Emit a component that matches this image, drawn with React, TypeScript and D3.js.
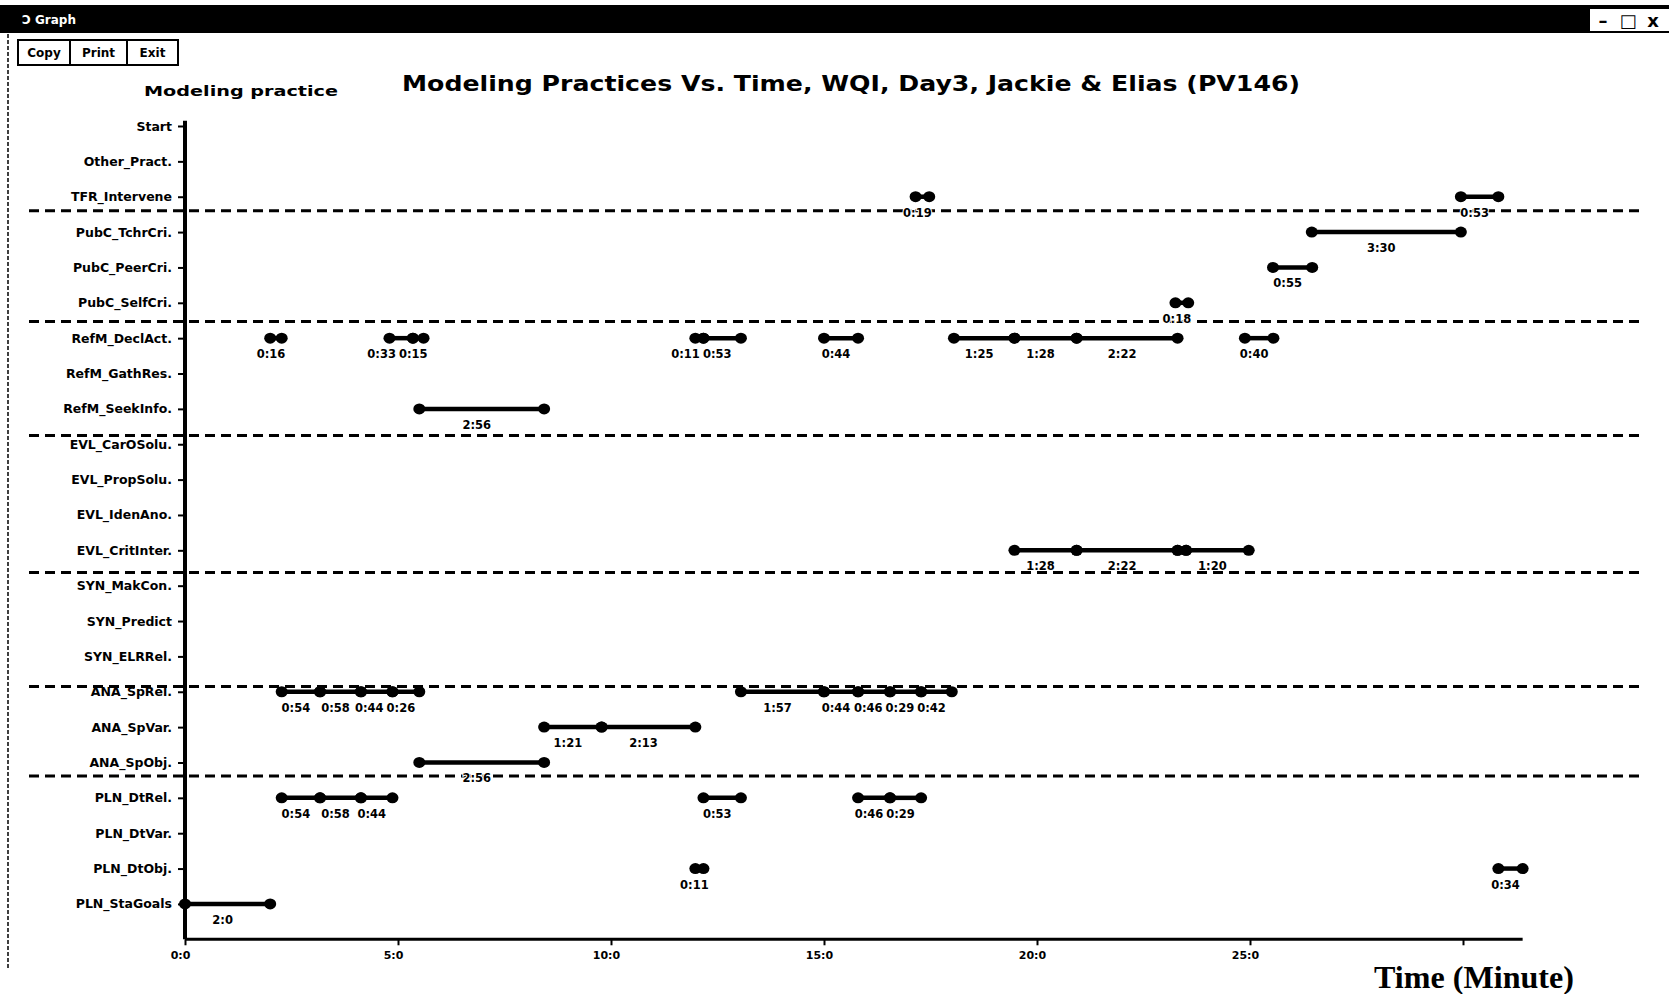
import React, { useEffect, useRef } from "react";
import * as d3 from "d3";

// rows of the chart, top to bottom
const practices = [
  "Start", "Other_Pract.", "TFR_Intervene",
  "PubC_TchrCri.", "PubC_PeerCri.", "PubC_SelfCri.",
  "RefM_DeclAct.", "RefM_GathRes.", "RefM_SeekInfo.",
  "EVL_CarOSolu.", "EVL_PropSolu.", "EVL_IdenAno.", "EVL_CritInter.",
  "SYN_MakCon.", "SYN_Predict", "SYN_ELRRel.",
  "ANA_SpRel.", "ANA_SpVar.", "ANA_SpObj.",
  "PLN_DtRel.", "PLN_DtVar.", "PLN_DtObj.", "PLN_StaGoals",
];

// dashed group separators, in row units
const groupBreaks = [2.4, 5.53, 8.75, 12.63, 15.85, 18.38];

const xTicks = [0, 5, 10, 15, 20, 25, 30];
const xTickLabels = ["0:0", "5:0", "10:0", "15:0", "20:0", "25:0", ""];
const xMax = 31.4;

// coded episodes (minutes)
const segPractice = [
  "TFR_Intervene", "TFR_Intervene",
  "PubC_TchrCri.", "PubC_PeerCri.", "PubC_SelfCri.",
  "RefM_DeclAct.", "RefM_DeclAct.", "RefM_DeclAct.", "RefM_DeclAct.", "RefM_DeclAct.",
  "RefM_DeclAct.", "RefM_DeclAct.", "RefM_DeclAct.", "RefM_DeclAct.", "RefM_DeclAct.",
  "RefM_SeekInfo.",
  "EVL_CritInter.", "EVL_CritInter.", "EVL_CritInter.", "EVL_CritInter.",
  "ANA_SpRel.", "ANA_SpRel.", "ANA_SpRel.", "ANA_SpRel.",
  "ANA_SpRel.", "ANA_SpRel.", "ANA_SpRel.", "ANA_SpRel.", "ANA_SpRel.",
  "ANA_SpVar.", "ANA_SpVar.",
  "ANA_SpObj.",
  "PLN_DtRel.", "PLN_DtRel.", "PLN_DtRel.", "PLN_DtRel.", "PLN_DtRel.", "PLN_DtRel.",
  "PLN_DtObj.", "PLN_DtObj.",
  "PLN_StaGoals",
];
const segStart = [
  17.15, 29.95,
  26.45, 25.54, 23.25,
  2.0, 4.8, 5.35, 11.98, 12.17, 15.0, 18.05, 19.47, 20.93, 24.88,
  5.5,
  19.47, 20.93, 23.3, 23.5,
  2.27, 3.17, 4.13, 4.87, 13.05, 15.0, 15.8, 16.55, 17.28,
  8.43, 9.78,
  5.5,
  2.27, 3.17, 4.13, 12.17, 15.8, 16.55,
  11.98, 30.83,
  0,
];
const segEnd = [
  17.47, 30.83,
  29.95, 26.46, 23.55,
  2.27, 5.35, 5.6, 12.17, 13.05, 15.8, 19.47, 20.93, 23.3, 25.55,
  8.43,
  20.93, 23.3, 23.5, 24.97,
  3.17, 4.13, 4.87, 5.5, 15.0, 15.8, 16.55, 17.28, 18.0,
  9.78, 11.98,
  8.43,
  3.17, 4.13, 4.87, 13.05, 16.55, 17.28,
  12.17, 31.4,
  2.0,
];
const segLabel = [
  "0:19", "0:53",
  "3:30", "0:55", "0:18",
  "0:16", "0:33", "0:15", "0:11", "0:53", "0:44", "1:25", "1:28", "2:22", "0:40",
  "2:56",
  "1:28", "2:22", "", "1:20",
  "0:54", "0:58", "0:44", "0:26", "1:57", "0:44", "0:46", "0:29", "0:42",
  "1:21", "2:13",
  "2:56",
  "0:54", "0:58", "0:44", "0:53", "0:46", "0:29",
  "0:11", "0:34",
  "2:0",
];

const FONT = "'DejaVu Sans', Verdana, sans-serif";

const App = () => {
  const ref = useRef<SVGSVGElement>(null);

  useEffect(() => {
    const svg = d3.select(ref.current);
    svg.selectAll("*").remove();

    const W = 1669;
    const H = 994;

    const x = d3.scaleLinear().domain([0, xMax]).range([185, 185 + xMax * 42.6]);
    // one extra slot below the last row for the time axis
    const y = d3.scaleLinear().domain([0, practices.length]).range([126, 126 + practices.length * 35.36]);
    const row = (p: string) => y(practices.indexOf(p));

    svg.append("rect").attr("width", W).attr("height", H).attr("fill", "#fff");

    // window chrome
    svg.append("rect").attr("x", 0).attr("y", 5).attr("width", W).attr("height", 28).attr("fill", "#000");
    svg.append("text")
      .attr("x", 22).attr("y", 24)
      .attr("fill", "#fff").style("font", `bold 12px ${FONT}`)
      .text("\u2183 Graph");
    svg.append("rect").attr("x", 1590).attr("y", 9).attr("width", 79).attr("height", 22).attr("fill", "#fff");
    ["\u2013", "\u25A1", "x"].forEach((c, i) => {
      svg.append("text")
        .attr("x", 1603 + i * 25).attr("y", 27)
        .attr("text-anchor", "middle")
        .style("font", `bold 18px ${FONT}`)
        .text(c);
    });
    svg.append("line")
      .attr("x1", 8).attr("x2", 8).attr("y1", 34).attr("y2", 968)
      .attr("stroke", "#000").attr("stroke-width", 1.5)
      .attr("stroke-dasharray", "4 2");

    const buttons = [["Copy", 18, 52], ["Print", 70, 57], ["Exit", 127, 51]] as const;
    buttons.forEach(([t, bx, bw]) => {
      svg.append("rect")
        .attr("x", bx).attr("y", 40).attr("width", bw).attr("height", 25)
        .attr("fill", "#fff").attr("stroke", "#000").attr("stroke-width", 2);
      svg.append("text")
        .attr("x", bx + bw / 2).attr("y", 57)
        .attr("text-anchor", "middle")
        .style("font", `bold 12px ${FONT}`)
        .text(t);
    });

    // titles
    svg.append("text")
      .attr("x", 851).attr("y", 91)
      .attr("text-anchor", "middle")
      .attr("textLength", 898).attr("lengthAdjust", "spacingAndGlyphs")
      .style("font", `bold 22px ${FONT}`)
      .text("Modeling Practices Vs. Time, WQI, Day3, Jackie & Elias (PV146)");
    svg.append("text")
      .attr("x", 144).attr("y", 96)
      .attr("textLength", 194).attr("lengthAdjust", "spacingAndGlyphs")
      .style("font", `bold 14px ${FONT}`)
      .text("Modeling practice");
    svg.append("text")
      .attr("x", 1374).attr("y", 988)
      .attr("textLength", 200).attr("lengthAdjust", "spacingAndGlyphs")
      .style("font", "bold 31px 'Liberation Serif', 'Times New Roman', serif")
      .text("Time (Minute)");

    // dashed group separators
    svg.selectAll(".sep")
      .data(groupBreaks)
      .enter()
      .append("line")
        .attr("class", "sep")
        .attr("x1", 29).attr("x2", 1645)
        .attr("y1", d => y(d))
        .attr("y2", d => y(d))
        .attr("stroke", "#000").attr("stroke-width", 3)
        .attr("stroke-dasharray", "10 6");

    // y axis
    const yAxis = svg.append("g")
      .attr("transform", `translate(${x(0)},0)`)
      .call(
        d3.axisLeft(y)
          .tickValues(d3.range(practices.length))
          .tickFormat(i => practices[i as number])
          .tickSize(7)
          .tickPadding(6)
      );
    yAxis.select(".domain").remove();
    yAxis.selectAll("line").attr("stroke", "#000").attr("stroke-width", 2);
    yAxis.selectAll("text")
      .attr("fill", "#000")
      .style("font", `bold 12.5px ${FONT}`);
    svg.append("line")
      .attr("x1", x(0)).attr("x2", x(0))
      .attr("y1", y(-0.15)).attr("y2", y(practices.length))
      .attr("stroke", "#000").attr("stroke-width", 4);

    // x axis
    const xAxis = svg.append("g")
      .attr("transform", `translate(0,${y(practices.length)})`)
      .call(
        d3.axisBottom(x)
          .tickValues(xTicks)
          .tickFormat((d, i) => xTickLabels[i])
          .tickSize(6)
          .tickPadding(6)
      );
    xAxis.select(".domain").remove();
    xAxis.selectAll("line").attr("stroke", "#000").attr("stroke-width", 2);
    xAxis.selectAll("text")
      .attr("fill", "#000")
      .attr("dx", -5)
      .style("font", `bold 11px ${FONT}`);
    svg.append("line")
      .attr("x1", x(0)).attr("x2", x(xMax))
      .attr("y1", y(practices.length)).attr("y2", y(practices.length))
      .attr("stroke", "#000").attr("stroke-width", 3);

    // episodes
    const idx = d3.range(segPractice.length);
    const g = svg.append("g");
    g.selectAll(".seg")
      .data(idx)
      .enter()
      .append("line")
        .attr("class", "seg")
        .attr("x1", i => x(segStart[i]))
        .attr("x2", i => x(segEnd[i]))
        .attr("y1", i => row(segPractice[i]))
        .attr("y2", i => row(segPractice[i]))
        .attr("stroke", "#000").attr("stroke-width", 4.5);

    const ends = idx.flatMap(i => [[segStart[i], segPractice[i]], [segEnd[i], segPractice[i]]] as [number, string][]);
    g.selectAll(".dot")
      .data(ends)
      .enter()
      .append("ellipse")
        .attr("class", "dot")
        .attr("cx", d => x(d[0]))
        .attr("cy", d => row(d[1]))
        .attr("rx", 6).attr("ry", 5.5)
        .attr("fill", "#000");

    const labels = g.selectAll<SVGTextElement, number>(".lbl")
      .data(idx.filter(i => segLabel[i] !== ""))
      .enter()
      .append("text")
        .attr("class", "lbl")
        .attr("x", i => x((segStart[i] + segEnd[i]) / 2) - 5)
        .attr("y", i => row(segPractice[i]) + 20)
        .attr("text-anchor", "middle")
        .attr("stroke", "#fff").attr("stroke-width", 2)
        .attr("paint-order", "stroke")
        .style("font", `bold 11.5px ${FONT}`)
        .text(i => segLabel[i]);

    // push crowded labels in a row to the left so they do not collide
    const byRow = d3.group(labels.nodes(), n => segPractice[d3.select(n).datum() as number]);
    byRow.forEach(list => {
      const sorted = list.slice().sort((a, b) => +a.getAttribute("x")! - +b.getAttribute("x")!);
      for (let k = sorted.length - 2; k >= 0; k--) {
        const a = sorted[k].getBBox();
        const b = sorted[k + 1].getBBox();
        const overlap = a.x + a.width + 3 - b.x;
        if (overlap > 0) sorted[k].setAttribute("x", String(+sorted[k].getAttribute("x")! - overlap));
      }
    });
  }, []);

  return (
    <svg
      ref={ref}
      width={1669}
      height={994}
      style={{ position: "absolute", left: 0, top: 0, display: "block" }}
    />
  );
};

export default App;
